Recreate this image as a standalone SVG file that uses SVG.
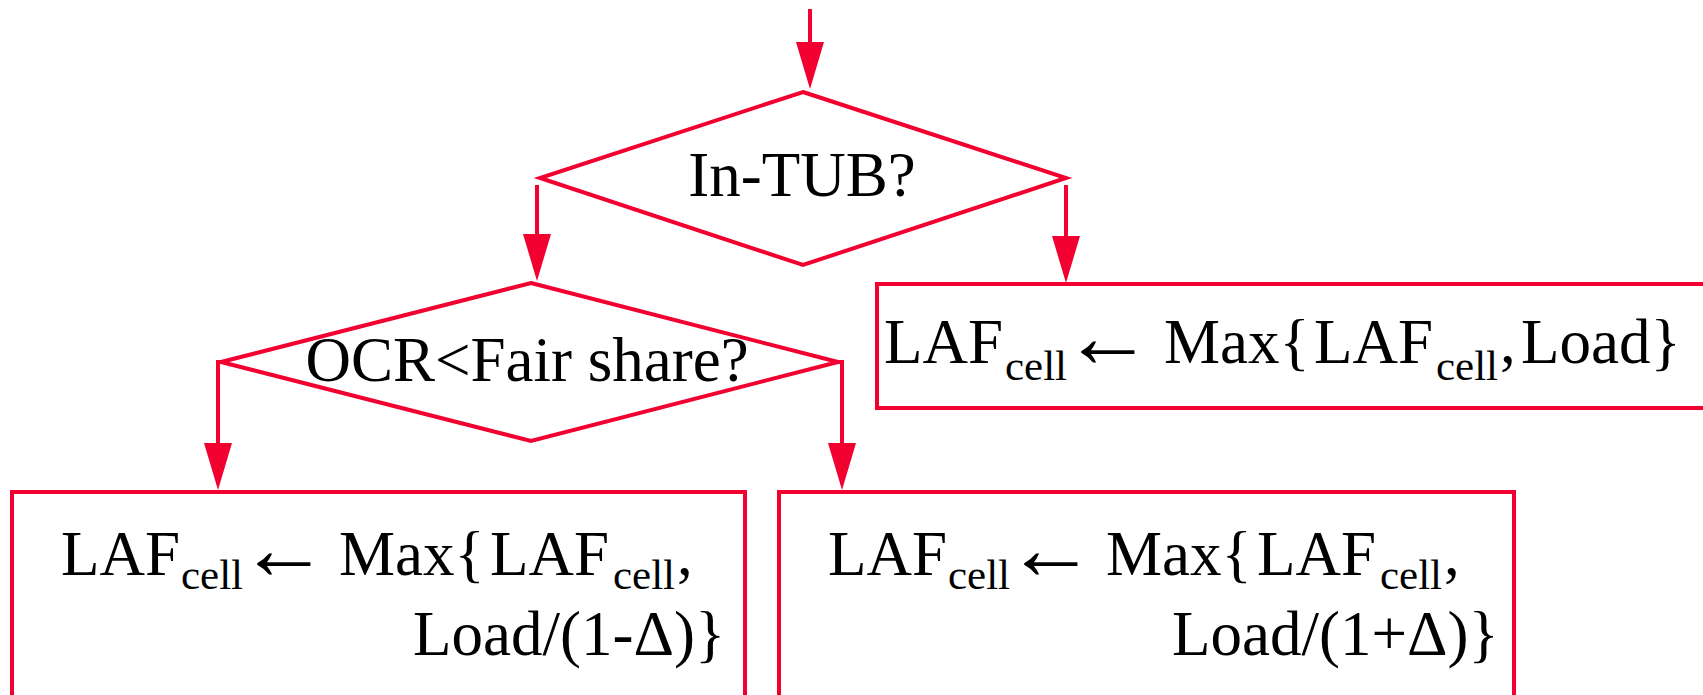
<svg xmlns="http://www.w3.org/2000/svg" width="1703" height="695" viewBox="0 0 1703 695">
<style>
.shape{fill:#ffffff;stroke:#f20030;stroke-width:4;stroke-linejoin:miter}
.conn{stroke:#f20030;stroke-width:4;fill:none}
.t{font-family:"Liberation Serif","Times New Roman","DejaVu Serif",serif;font-size:63px;fill:#000000}
.sub{font-size:43px}
.arr{font-size:90px}
</style>
<defs>
<marker id="ah" markerUnits="userSpaceOnUse" viewBox="0 -15 48 30" refX="17" refY="0" markerWidth="48" markerHeight="30" orient="auto">
<path d="M0,-14 L47,0 L0,14 z" fill="#f20030"/>
</marker>
</defs>
<rect width="1703" height="695" fill="#ffffff"/>
<g id="connectors">
<line class="conn" x1="810" y1="9" x2="810" y2="59" marker-end="url(#ah)"/>
<line class="conn" x1="537" y1="185" x2="537" y2="251" marker-end="url(#ah)"/>
<line class="conn" x1="1066" y1="185" x2="1066" y2="253" marker-end="url(#ah)"/>
<polyline class="conn" points="221,362 218,362 218,460" marker-end="url(#ah)"/>
<polyline class="conn" points="838,362 842,362 842,460" marker-end="url(#ah)"/>
</g>
<g id="d1">
<polygon class="shape" points="803,92 1066,178 803,265 540,178"/>
<text class="t" x="802" y="196" text-anchor="middle">In-TUB?</text>
</g>
<g id="d2">
<polygon class="shape" points="531,283 838,362 531,441 221,362"/>
<text class="t" x="527" y="381" text-anchor="middle">OCR&lt;Fair share?</text>
</g>
<g id="box_right">
<rect class="shape" x="877" y="284" width="840" height="124"/>
<text class="t" y="363"><tspan x="884">LAF</tspan><tspan class="sub" x="1005" y="380">cell</tspan><tspan class="arr" x="1063" y="367">←</tspan><tspan x="1164" y="363">Max{</tspan><tspan x="1314">LAF</tspan><tspan class="sub" x="1436" y="380">cell</tspan><tspan x="1500" y="363">,</tspan><tspan x="1521">Load}</tspan></text>
</g>
<g id="box_left">
<rect class="shape" x="12" y="492" width="733" height="220"/>
<text class="t" y="575"><tspan x="61">LAF</tspan><tspan class="sub" x="181" y="589">cell</tspan><tspan class="arr" x="239" y="579">←</tspan><tspan x="339" y="575">Max{</tspan><tspan x="490">LAF</tspan><tspan class="sub" x="613" y="589">cell</tspan><tspan x="677" y="575">,</tspan><tspan x="413" y="655">Load/(1-Δ)}</tspan></text>
</g>
<g id="box_mid">
<rect class="shape" x="779" y="492" width="735" height="220"/>
<text class="t" y="575"><tspan x="828">LAF</tspan><tspan class="sub" x="948" y="589">cell</tspan><tspan class="arr" x="1006" y="579">←</tspan><tspan x="1106" y="575">Max{</tspan><tspan x="1257">LAF</tspan><tspan class="sub" x="1380" y="589">cell</tspan><tspan x="1444" y="575">,</tspan><tspan x="1172" y="655">Load/(1+Δ)}</tspan></text>
</g>
</svg>
